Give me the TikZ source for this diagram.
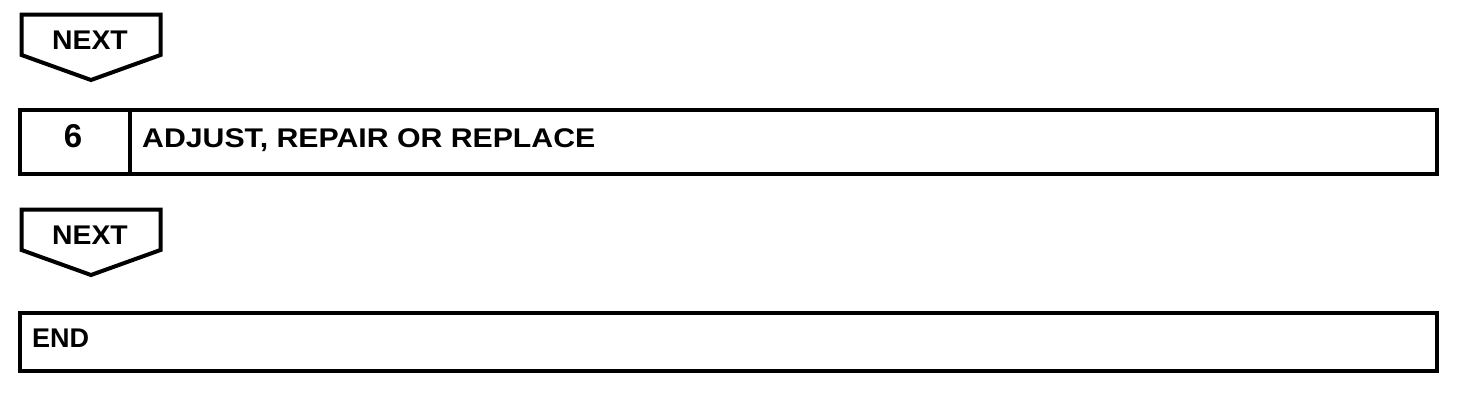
\documentclass[tikz,border=0pt]{standalone}
\usepackage{fontspec}
\setmainfont{Liberation Sans}
\begin{document}
\begin{tikzpicture}[x=1pt,y=-1pt,
  outl/.style={draw=black,line width=4pt,line join=miter},
  lbl/.style={inner sep=0pt,font=\bfseries\fontsize{27}{27}\selectfont},
  wide/.style={inner sep=0pt,font=\bfseries\fontsize{27}{27}\selectfont\addfontfeature{FakeStretch=1.12}},
  nxt/.style={inner sep=0pt,font=\bfseries\fontsize{27}{27}\selectfont\addfontfeature{FakeStretch=1.05}},
  num/.style={inner sep=0pt,font=\bfseries\fontsize{33}{33}\selectfont}]
\useasboundingbox (0,0) rectangle (1472,402);
% NEXT 1
\draw[outl] (21.5,14.5) -- (160.5,14.5) -- (160.5,55) -- (91,80) -- (21.5,55) -- cycle;
\node[nxt,anchor=base] (next1) at (90,49) {NEXT};
% step 6 box
\draw[outl] (20,110) rectangle (1436.5,174);
\draw[outl] (129.5,110) -- (129.5,174);
\node[num,anchor=base] (six) at (73,147) {6};
\node[wide,anchor=base west] (adj) at (142,147) {ADJUST, REPAIR OR REPLACE};
% NEXT 2
\draw[outl] (21.5,209.5) -- (160.5,209.5) -- (160.5,250) -- (91,275) -- (21.5,250) -- cycle;
\node[nxt,anchor=base] (next2) at (90,244) {NEXT};
% END
\draw[outl] (20,312.5) rectangle (1436.5,370.5);
\node[lbl,anchor=base west] (endt) at (32,347) {END};
\end{tikzpicture}
\end{document}
